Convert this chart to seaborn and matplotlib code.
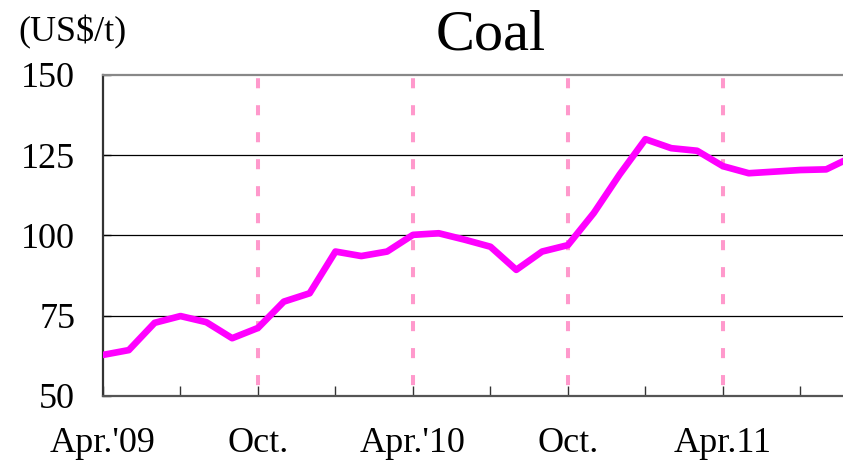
import matplotlib
matplotlib.use("Agg")
import matplotlib.pyplot as plt
import seaborn as sns
import pandas as pd

# Monthly coal price, April 2009 - September 2011 (US$/t)
months = ["2009-04", "2009-05", "2009-06", "2009-07", "2009-08", "2009-09",
          "2009-10", "2009-11", "2009-12", "2010-01", "2010-02", "2010-03",
          "2010-04", "2010-05", "2010-06", "2010-07", "2010-08", "2010-09",
          "2010-10", "2010-11", "2010-12", "2011-01", "2011-02", "2011-03",
          "2011-04", "2011-05", "2011-06", "2011-07", "2011-08", "2011-09"]
price = [62.8, 64.3, 72.8, 74.9, 73.0, 68.0,
         71.2, 79.4, 82.0, 95.0, 93.6, 95.0,
         100.2, 100.7, 98.7, 96.5, 89.3, 95.0,
         97.0, 107.0, 119.0, 130.0, 127.2, 126.4,
         121.6, 119.4, 119.9, 120.4, 120.6, 124.5]

major_ticks = [0, 6, 12, 18, 24]
major_labels = ["Apr.'09", "Oct.", "Apr.'10", "Oct.", "Apr.11"]
minor_ticks = [3, 9, 15, 21, 27]
y_ticks = [50, 75, 100, 125, 150]
grid_levels = [75, 100, 125]
half_year_marks = [6, 12, 18, 24]

df = pd.DataFrame({"idx": range(len(months)), "month": months, "price": price})

sns.set_theme(style="white")
plt.rcParams["font.family"] = ["Liberation Serif", "DejaVu Serif"]
plt.rcParams["text.color"] = "black"
plt.rcParams["xtick.labelcolor"] = "black"
plt.rcParams["ytick.labelcolor"] = "black"

dpi = 100
fig = plt.figure(figsize=(843 / dpi, 461 / dpi), dpi=dpi)
ax = fig.add_axes([103 / 843, 65 / 461, 740 / 843, 321 / 461])

for y in grid_levels:
    ax.axhline(y, color="black", lw=0.9, zorder=1)
for x in half_year_marks:
    ax.axvline(x, color="#FF99CC", lw=2.9, linestyle=(4.0, (2.5, 4.2)), zorder=2)

sns.lineplot(data=df, x="idx", y="price", ax=ax, color="#FF00FF",
             linewidth=4.8, zorder=3, legend=False)

ax.set_xlim(0, 740 / 25.83)
ax.set_ylim(50, 150)
ax.set_xlabel("")
ax.set_ylabel("")

ax.set_xticks(major_ticks)
ax.set_xticklabels(major_labels)
ax.set_xticks(minor_ticks, minor=True)
ax.set_yticks(y_ticks)
ax.set_yticklabels([str(v) for v in y_ticks])

ax.tick_params(axis="x", which="both", direction="in", length=7, width=1.0,
               color="#333333", labelsize=26, labelcolor="black", pad=22,
               bottom=True)
ax.tick_params(axis="y", direction="in", length=6, width=1.0, color="#333333",
               labelsize=26, labelcolor="black", pad=20, left=True)

ax.spines["left"].set_color("#333333")
ax.spines["left"].set_linewidth(1.6)
ax.spines["bottom"].set_color("#555555")
ax.spines["bottom"].set_linewidth(1.6)
ax.spines["top"].set_color("#888888")
ax.spines["top"].set_linewidth(1.6)
ax.spines["right"].set_visible(False)

fig.text(491 / 843, 1 - 36 / 461, "Coal", fontsize=42, ha="center",
         va="center", color="black")
fig.text(18 / 843, 1 - 32 / 461, "(US$/t)", fontsize=26, ha="left",
         va="center", color="black")

fig.savefig("out.png", dpi=dpi)
